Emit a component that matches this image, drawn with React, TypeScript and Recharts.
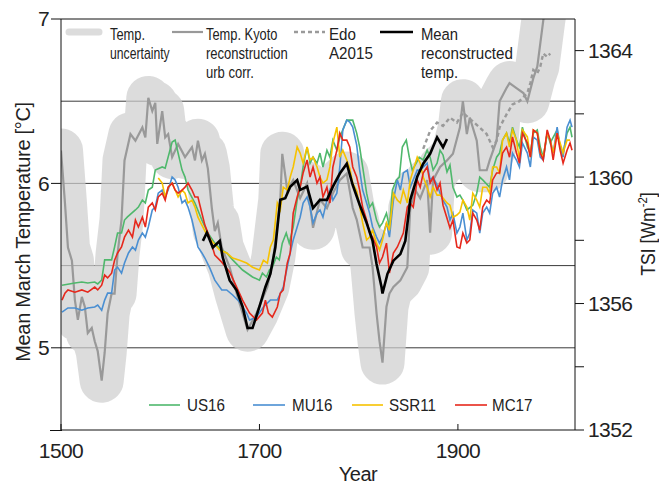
import React from 'react';
import { ComposedChart, Line, XAxis, YAxis, CartesianGrid, ReferenceLine } from 'recharts';

const FONT = '"Liberation Sans", Arial, sans-serif';

const yearTicks = [1500, 1700, 1900];
const tempTicks = [5, 6, 7];
const tempGrid = [5, 5.5, 6, 6.5];
const tsiTicks = [1352, 1354, 1356, 1358, 1360, 1362, 1364];

// Kyoto March temperature reconstruction (urban corrected), [year, °C];
// the uncertainty envelope is drawn around the same series
const kyoto: [number, number][] = [
  [1500, 6.2], [1504, 5.88], [1507, 5.61], [1511, 5.53], [1514, 5.29], [1517, 5.17], [1521, 5.31],
  [1524, 5.25], [1527, 5.09], [1531, 5.12], [1534, 5.04], [1537, 4.98], [1541, 4.8], [1544, 4.97],
  [1547, 5.21], [1551, 5.33], [1554, 5.33], [1557, 5.57], [1561, 5.78], [1564, 6.14], [1570, 6.3],
  [1575, 6.26], [1582, 6.34], [1585, 6.28], [1588, 6.52], [1592, 6.44], [1595, 6.49], [1597, 6.24],
  [1602, 6.44], [1605, 6.28], [1608, 6.3], [1612, 6.16], [1618, 6.24], [1625, 6.16], [1632, 6.22],
  [1635, 6.14], [1638, 6.26], [1642, 6.14], [1645, 6.18], [1648, 6.09], [1652, 5.85], [1655, 5.71],
  [1658, 5.76], [1662, 5.61], [1670, 5.49], [1677, 5.33], [1683, 5.21], [1688, 5.11], [1697, 5.21],
  [1708, 5.37], [1714, 5.55], [1721, 5.9], [1723, 6.18], [1728, 5.96], [1734, 6.02], [1741, 5.91],
  [1748, 6.0], [1754, 5.73], [1761, 5.9], [1768, 5.85], [1774, 5.94], [1781, 6.02], [1788, 6.06],
  [1794, 5.85], [1798, 5.78], [1804, 5.61], [1811, 5.61], [1814, 5.49], [1818, 5.21], [1821, 5.04],
  [1824, 4.91], [1828, 5.25], [1831, 5.33], [1835, 5.37], [1842, 5.41], [1849, 5.49], [1852, 5.85],
  [1857, 5.96], [1862, 5.91], [1869, 6.02], [1872, 5.7], [1875, 6.02], [1882, 6.1], [1889, 6.14],
  [1895, 6.18], [1902, 6.34], [1905, 6.5], [1909, 6.3], [1912, 6.4], [1915, 6.34], [1919, 6.26],
  [1922, 6.08], [1929, 6.08], [1932, 6.14], [1939, 6.26], [1942, 6.5], [1949, 6.58], [1952, 6.61],
  [1959, 6.58], [1966, 6.55], [1970, 6.5], [1973, 6.57], [1976, 6.64], [1980, 6.71], [1983, 6.85],
  [1986, 6.99], [1989, 7.11],
];

const edo: [number, number][] = [
  [1865, 6.21], [1872, 6.32], [1879, 6.37], [1885, 6.35], [1892, 6.4], [1899, 6.37], [1905, 6.43],
  [1922, 6.34], [1929, 6.3], [1935, 6.22], [1939, 6.26], [1942, 6.34], [1949, 6.42], [1955, 6.48],
  [1962, 6.5], [1970, 6.55], [1973, 6.61], [1976, 6.69], [1980, 6.67], [1983, 6.71], [1986, 6.79],
  [1990, 6.77], [1993, 6.79],
];

const meanTemp: [number, number][] = [
  [1643, 5.65], [1647, 5.7], [1653, 5.61], [1660, 5.65], [1663, 5.55], [1670, 5.41], [1677, 5.35],
  [1683, 5.25], [1688, 5.12], [1693, 5.12], [1700, 5.25], [1706, 5.37], [1711, 5.45], [1716, 5.61],
  [1721, 5.9], [1726, 5.91], [1731, 5.98], [1738, 6.02], [1741, 5.96], [1748, 5.98], [1754, 5.85],
  [1761, 5.9], [1768, 5.9], [1774, 5.98], [1781, 6.06], [1788, 6.12], [1794, 5.99], [1801, 5.87],
  [1808, 5.76], [1814, 5.65], [1818, 5.51], [1823, 5.37], [1824, 5.33], [1829, 5.45], [1835, 5.53],
  [1842, 5.57], [1847, 5.65], [1852, 5.9], [1859, 6.04], [1865, 6.12], [1872, 6.18], [1879, 6.28],
  [1885, 6.22], [1889, 6.27],
];

// TSI reconstructions, [year, W/m²]
const us16: [number, number][] = [
  [1501, 1356.58], [1514, 1356.65], [1521, 1356.68], [1527, 1356.65], [1534, 1356.68], [1537, 1356.62],
  [1541, 1356.74], [1544, 1357.38], [1551, 1357.38], [1554, 1357.79], [1557, 1358.23], [1561, 1358.23],
  [1564, 1358.64], [1567, 1358.74], [1575, 1358.96], [1578, 1359.05], [1582, 1359.27], [1585, 1359.18],
  [1588, 1359.59], [1592, 1359.68], [1595, 1360.22], [1602, 1360.32], [1605, 1360.28], [1612, 1361.11],
  [1615, 1361.17], [1618, 1360.76], [1622, 1360.22], [1625, 1360.0], [1628, 1359.59], [1635, 1359.18],
  [1642, 1358.64], [1648, 1358.23], [1655, 1357.91], [1662, 1357.69], [1667, 1357.6], [1673, 1357.38],
  [1683, 1357.06], [1693, 1356.84], [1700, 1356.74], [1703, 1356.96], [1707, 1356.84], [1710, 1357.06],
  [1713, 1357.15], [1717, 1357.47], [1720, 1357.38], [1723, 1357.91], [1727, 1358.23], [1730, 1357.91],
  [1734, 1358.42], [1738, 1359.27], [1741, 1359.68], [1744, 1360.32], [1748, 1360.95], [1751, 1360.44],
  [1754, 1360.63], [1758, 1360.44], [1761, 1360.76], [1764, 1360.32], [1768, 1360.85], [1771, 1360.63],
  [1774, 1361.17], [1778, 1360.85], [1781, 1361.26], [1788, 1361.8], [1794, 1361.8], [1798, 1361.39],
  [1801, 1360.95], [1804, 1360.32], [1808, 1359.49], [1811, 1359.05], [1814, 1359.18], [1818, 1358.64],
  [1821, 1358.42], [1824, 1358.55], [1828, 1358.86], [1831, 1358.42], [1834, 1359.59], [1838, 1359.91],
  [1841, 1360.0], [1844, 1360.95], [1848, 1361.17], [1851, 1360.63], [1854, 1360.22], [1858, 1360.44],
  [1861, 1360.63], [1865, 1360.54], [1869, 1360.85], [1872, 1360.63], [1875, 1360.22], [1879, 1360.44],
  [1882, 1360.85], [1885, 1360.7], [1889, 1360.16], [1892, 1360.38], [1895, 1359.68], [1899, 1359.37],
  [1902, 1359.43], [1905, 1359.27], [1909, 1358.96], [1915, 1359.11], [1919, 1359.49], [1922, 1360.0],
  [1925, 1359.91], [1932, 1359.68], [1935, 1360.22], [1939, 1360.63], [1942, 1360.76], [1945, 1361.17],
  [1949, 1361.39], [1952, 1361.08], [1955, 1361.58], [1959, 1361.17], [1962, 1360.95], [1965, 1361.58],
  [1970, 1360.95], [1973, 1360.76], [1976, 1361.39], [1980, 1361.49], [1983, 1360.95], [1986, 1360.63],
  [1990, 1361.39], [1993, 1361.08], [2000, 1361.49], [2003, 1360.95], [2006, 1360.76], [2010, 1361.39],
  [2013, 1361.58], [2015, 1361.26],
];

const mu16: [number, number][] = [
  [1501, 1355.73], [1507, 1355.86], [1514, 1355.86], [1521, 1355.79], [1527, 1355.86], [1534, 1355.89],
  [1537, 1355.95], [1541, 1355.79], [1544, 1356.11], [1547, 1356.33], [1551, 1356.33], [1554, 1357.06],
  [1557, 1357.15], [1561, 1356.96], [1564, 1357.28], [1568, 1357.6], [1572, 1357.79], [1575, 1357.69],
  [1578, 1358.01], [1582, 1358.23], [1585, 1358.1], [1588, 1358.42], [1592, 1358.96], [1595, 1359.05],
  [1598, 1359.49], [1602, 1359.59], [1605, 1359.37], [1608, 1359.59], [1612, 1360.0], [1615, 1359.91],
  [1618, 1359.68], [1622, 1359.18], [1625, 1359.27], [1628, 1359.05], [1632, 1358.64], [1635, 1358.23],
  [1638, 1357.79], [1642, 1357.6], [1645, 1357.44], [1650, 1357.12], [1655, 1356.74], [1662, 1356.43],
  [1667, 1356.43], [1673, 1356.27], [1680, 1356.05], [1687, 1355.7], [1690, 1355.48], [1697, 1355.57],
  [1704, 1355.89], [1711, 1356.11], [1718, 1356.11], [1724, 1356.52], [1728, 1357.15], [1731, 1357.6],
  [1734, 1358.01], [1738, 1358.42], [1741, 1358.73], [1744, 1359.18], [1748, 1359.37], [1751, 1359.05],
  [1754, 1358.55], [1758, 1358.86], [1761, 1358.96], [1764, 1358.73], [1768, 1359.27], [1771, 1359.59],
  [1774, 1359.27], [1778, 1359.49], [1781, 1360.32], [1784, 1361.49], [1788, 1361.8], [1791, 1361.74],
  [1794, 1361.58], [1798, 1361.01], [1801, 1360.22], [1804, 1359.59], [1808, 1359.18], [1811, 1358.86],
  [1814, 1358.42], [1818, 1358.1], [1821, 1357.91], [1824, 1358.1], [1828, 1358.55], [1831, 1358.1],
  [1835, 1359.27], [1839, 1359.91], [1842, 1359.59], [1845, 1360.13], [1849, 1360.22], [1852, 1359.68],
  [1855, 1359.91], [1859, 1360.22], [1862, 1360.22], [1869, 1360.44], [1872, 1359.91], [1875, 1360.0],
  [1879, 1359.75], [1882, 1359.49], [1885, 1359.27], [1889, 1359.05], [1892, 1358.64], [1895, 1358.86],
  [1899, 1358.23], [1902, 1358.42], [1905, 1358.86], [1909, 1358.01], [1912, 1358.23], [1915, 1358.96],
  [1919, 1358.86], [1922, 1358.23], [1925, 1358.86], [1929, 1359.05], [1932, 1358.86], [1935, 1359.49],
  [1939, 1359.68], [1942, 1359.37], [1945, 1359.91], [1949, 1360.32], [1952, 1359.91], [1955, 1360.76],
  [1959, 1360.54], [1962, 1360.32], [1965, 1361.08], [1970, 1360.76], [1973, 1360.32], [1976, 1361.27],
  [1980, 1361.17], [1983, 1360.63], [1986, 1360.54], [1990, 1361.39], [1993, 1361.17], [1996, 1360.76],
  [2000, 1361.58], [2003, 1360.95], [2006, 1360.63], [2010, 1361.58], [2013, 1361.8], [2015, 1361.58],
];

const ssr11: [number, number][] = [
  [1598, 1359.97], [1602, 1359.81], [1605, 1359.37], [1608, 1359.68], [1612, 1359.81], [1615, 1359.59],
  [1618, 1359.37], [1622, 1359.59], [1625, 1359.49], [1628, 1359.18], [1632, 1359.27], [1635, 1359.05],
  [1638, 1358.73], [1642, 1358.48], [1647, 1358.17], [1653, 1357.94], [1660, 1357.69], [1667, 1357.6],
  [1673, 1357.44], [1680, 1357.37], [1687, 1357.28], [1693, 1357.15], [1700, 1357.06], [1704, 1357.37],
  [1708, 1357.28], [1711, 1357.79], [1714, 1358.01], [1718, 1359.18], [1721, 1358.96], [1724, 1359.68],
  [1728, 1359.59], [1731, 1360.0], [1734, 1360.32], [1738, 1360.95], [1741, 1360.76], [1744, 1360.44],
  [1748, 1360.95], [1751, 1360.54], [1754, 1360.63], [1758, 1360.32], [1761, 1360.0], [1764, 1359.81],
  [1768, 1359.91], [1771, 1360.32], [1774, 1361.08], [1778, 1361.58], [1781, 1360.63], [1784, 1360.85],
  [1788, 1360.54], [1791, 1360.28], [1794, 1359.81], [1798, 1359.56], [1801, 1359.08], [1804, 1358.55],
  [1808, 1358.01], [1811, 1358.1], [1814, 1358.32], [1818, 1357.91], [1821, 1357.69], [1824, 1358.01],
  [1828, 1358.55], [1831, 1358.32], [1835, 1359.49], [1839, 1359.27], [1842, 1359.18], [1845, 1359.59],
  [1849, 1359.18], [1852, 1359.91], [1855, 1360.22], [1859, 1360.63], [1862, 1360.44], [1865, 1360.0],
  [1869, 1359.68], [1872, 1359.37], [1875, 1359.68], [1879, 1359.43], [1882, 1359.43], [1885, 1359.34],
  [1889, 1359.18], [1892, 1359.11], [1895, 1358.73], [1899, 1358.8], [1902, 1358.89], [1905, 1359.27],
  [1909, 1359.05], [1912, 1358.64], [1915, 1359.49], [1919, 1359.27], [1922, 1359.05], [1925, 1359.68],
  [1929, 1359.68], [1932, 1359.49], [1935, 1360.32], [1939, 1360.32], [1942, 1360.13], [1945, 1361.17],
  [1949, 1361.39], [1952, 1360.95], [1955, 1361.49], [1959, 1361.17], [1962, 1360.54], [1965, 1361.49],
  [1970, 1361.27], [1973, 1360.63], [1976, 1361.49], [1980, 1361.39], [1983, 1360.76], [1986, 1360.63],
  [1990, 1361.39], [1993, 1361.17], [1996, 1360.76], [2000, 1361.39], [2003, 1361.08], [2006, 1360.76],
  [2010, 1361.17], [2013, 1361.17],
];

const mc17: [number, number][] = [
  [1501, 1356.11], [1504, 1356.33], [1507, 1356.43], [1514, 1356.36], [1521, 1356.43], [1527, 1356.36],
  [1534, 1356.52], [1537, 1356.43], [1541, 1356.58], [1544, 1356.9], [1547, 1356.81], [1551, 1356.96],
  [1554, 1357.37], [1557, 1357.6], [1561, 1357.79], [1564, 1358.1], [1568, 1358.32], [1572, 1358.1],
  [1575, 1358.64], [1578, 1358.42], [1582, 1358.73], [1585, 1358.42], [1588, 1359.05], [1592, 1359.18],
  [1595, 1358.96], [1598, 1359.37], [1602, 1359.49], [1605, 1359.27], [1608, 1359.68], [1612, 1359.81],
  [1615, 1359.59], [1618, 1359.49], [1622, 1359.59], [1625, 1359.68], [1628, 1359.81], [1632, 1359.59],
  [1635, 1359.37], [1638, 1359.37], [1640, 1359.11], [1645, 1358.48], [1650, 1358.07], [1655, 1357.53],
  [1662, 1357.31], [1670, 1357.0], [1677, 1356.52], [1683, 1356.11], [1690, 1355.7], [1697, 1355.48],
  [1703, 1355.7], [1706, 1356.11], [1709, 1355.7], [1713, 1355.57], [1718, 1355.89], [1721, 1356.33],
  [1724, 1356.43], [1728, 1357.28], [1731, 1357.6], [1734, 1358.86], [1738, 1359.37], [1741, 1359.68],
  [1744, 1360.13], [1748, 1360.54], [1751, 1360.0], [1754, 1360.32], [1758, 1359.81], [1761, 1360.0],
  [1764, 1359.37], [1768, 1359.68], [1771, 1359.18], [1774, 1360.32], [1778, 1360.85], [1781, 1361.39],
  [1784, 1361.17], [1788, 1361.17], [1791, 1360.95], [1794, 1360.32], [1798, 1360.0], [1801, 1359.59],
  [1804, 1359.05], [1808, 1358.64], [1811, 1358.23], [1814, 1358.1], [1818, 1357.79], [1821, 1357.28],
  [1824, 1357.47], [1828, 1357.91], [1831, 1356.96], [1835, 1357.6], [1839, 1357.79], [1842, 1358.01],
  [1845, 1358.23], [1849, 1359.05], [1852, 1359.18], [1855, 1359.05], [1859, 1359.91], [1862, 1359.68],
  [1865, 1360.13], [1869, 1360.32], [1872, 1359.81], [1875, 1360.0], [1879, 1359.59], [1882, 1359.81],
  [1885, 1359.11], [1889, 1358.7], [1892, 1358.39], [1895, 1358.64], [1899, 1357.79], [1902, 1357.75],
  [1905, 1358.23], [1909, 1357.91], [1912, 1358.01], [1915, 1358.86], [1919, 1358.64], [1922, 1358.32],
  [1925, 1359.05], [1929, 1359.27], [1932, 1359.18], [1935, 1359.91], [1939, 1360.13], [1942, 1360.13],
  [1945, 1360.76], [1949, 1360.95], [1952, 1360.63], [1955, 1361.27], [1959, 1360.76], [1962, 1360.44],
  [1965, 1361.39], [1970, 1361.08], [1973, 1360.63], [1976, 1361.49], [1980, 1361.39], [1983, 1360.76],
  [1986, 1360.54], [1990, 1361.49], [1993, 1361.17], [1996, 1360.54], [2000, 1361.39], [2003, 1360.85],
  [2006, 1360.44], [2010, 1360.85], [2013, 1361.08], [2015, 1360.85],
];

const pts = (a: [number, number][]) => a.map(([year, v]) => ({ year, v }));

const INK = '#222';
const tickStyle = { fontSize: 21, fill: INK, fontFamily: FONT, letterSpacing: -0.6 };

const YearTick = (props: any) => {
  const { x, y, payload } = props;
  return (
    <g>
      <line x1={x} x2={x} y1={y} y2={y - 6} stroke="#111" strokeWidth={1} />
      <text x={x} y={y + 28} textAnchor="middle" {...tickStyle}>{payload.value}</text>
    </g>
  );
};

// condensed legend text, as in the original figure
const Txt = ({ x, y, sx, children }: { x: number; y: number; sx: number; children: React.ReactNode }) => (
  <text transform={`translate(${x},${y}) scale(${sx},1)`} fontSize={16.5} fill={INK} fontFamily={FONT}>
    {children}
  </text>
);

const GREEN = '#4fb86c';
const BLUE = '#4a8fd2';
const YELLOW = '#f6c200';
const RED = '#e6281c';

export default function App() {
  return (
    <div style={{ position: 'absolute', left: 0, top: 0, width: 659, height: 485, background: '#fff' }}>
      <ComposedChart width={659} height={485} margin={{ top: 19, right: 0, bottom: 0, left: 0 }}>
        <CartesianGrid yAxisId="t" horizontalValues={tempGrid} vertical={false} stroke="#3a3a3a" strokeWidth={1} />
        <XAxis
          dataKey="year"
          type="number"
          domain={[1500, 2018]}
          ticks={yearTicks}
          allowDataOverflow
          height={55}
          tickSize={0}
          tickMargin={0}
          tickLine={false}
          tick={<YearTick />}
          stroke="#111"
        />
        <YAxis
          yAxisId="t"
          type="number"
          domain={[4.5, 7]}
          ticks={tempTicks}
          allowDataOverflow
          width={61}
          tickSize={10}
          tickMargin={2}
          tick={tickStyle}
          stroke="#111"
        />
        <YAxis
          yAxisId="tsi"
          orientation="right"
          type="number"
          domain={[1352, 1365]}
          ticks={tsiTicks}
          allowDataOverflow
          width={84}
          tickSize={9}
          tickMargin={4}
          tick={tickStyle}
          tickFormatter={(v: number) => (v % 4 === 0 ? String(v) : '')}
          stroke="#111"
        />
        <Line yAxisId="t" data={pts(kyoto)} dataKey="v" type="linear" stroke="#cfcfcf" strokeOpacity={0.72}
          strokeWidth={44} strokeLinecap="round" strokeLinejoin="round" dot={false} isAnimationActive={false} />
        <Line yAxisId="t" data={pts(kyoto)} dataKey="v" type="linear" stroke="#999" strokeWidth={2.2}
          dot={false} isAnimationActive={false} />
        <Line yAxisId="t" data={pts(edo)} dataKey="v" type="linear" stroke="#9a9a9a" strokeWidth={2.4}
          strokeDasharray="4 3" dot={false} isAnimationActive={false} />
        <Line yAxisId="tsi" data={pts(us16)} dataKey="v" type="linear" stroke={GREEN} strokeWidth={1.6}
          dot={false} isAnimationActive={false} />
        <Line yAxisId="tsi" data={pts(mu16)} dataKey="v" type="linear" stroke={BLUE} strokeWidth={1.6}
          dot={false} isAnimationActive={false} />
        <Line yAxisId="tsi" data={pts(ssr11)} dataKey="v" type="linear" stroke={YELLOW} strokeWidth={1.6}
          dot={false} isAnimationActive={false} />
        <Line yAxisId="tsi" data={pts(mc17)} dataKey="v" type="linear" stroke={RED} strokeWidth={1.6}
          dot={false} isAnimationActive={false} />
        <Line yAxisId="t" data={pts(meanTemp)} dataKey="v" type="linear" stroke="#000" strokeWidth={2.6}
          dot={false} isAnimationActive={false} />
        <ReferenceLine yAxisId="t" y={7} stroke="#111" strokeWidth={1} />
      </ComposedChart>

      <svg width={659} height={485} style={{ position: 'absolute', left: 0, top: 0, pointerEvents: 'none' }}>
        <line x1={50} x2={62} y1={430.5} y2={430.5} stroke="#111" />

        <line x1={69} x2={99} y1={32} y2={32} stroke="#dcdcdc" strokeWidth={7} strokeLinecap="round" />
        <Txt x={110} y={40} sx={0.78}>Temp.</Txt>
        <Txt x={110} y={59} sx={0.74}>uncertainty</Txt>

        <line x1={172} x2={203} y1={32} y2={32} stroke="#999" strokeWidth={2.2} />
        <Txt x={206} y={40} sx={0.78}>Temp. Kyoto</Txt>
        <Txt x={206} y={59} sx={0.79}>reconstruction</Txt>
        <Txt x={206} y={78} sx={0.79}>urb corr.</Txt>

        <line x1={294} x2={325} y1={32} y2={32} stroke="#9a9a9a" strokeWidth={2.4} strokeDasharray="4 3" />
        <Txt x={329} y={40} sx={0.92}>Edo</Txt>
        <Txt x={329} y={59} sx={0.92}>A2015</Txt>

        <line x1={380} x2={413} y1={32} y2={32} stroke="#000" strokeWidth={2.6} />
        <Txt x={421} y={40} sx={0.9}>Mean</Txt>
        <Txt x={421} y={59} sx={0.92}>reconstructed</Txt>
        <Txt x={421} y={78} sx={0.9}>temp.</Txt>

        <line x1={149} x2={180} y1={405} y2={405} stroke={GREEN} strokeWidth={1.6} />
        <Txt x={187} y={411} sx={0.92}>US16</Txt>
        <line x1={253} x2={285} y1={405} y2={405} stroke={BLUE} strokeWidth={1.6} />
        <Txt x={292} y={411} sx={0.92}>MU16</Txt>
        <line x1={352} x2={383} y1={405} y2={405} stroke={YELLOW} strokeWidth={1.6} />
        <Txt x={389} y={411} sx={0.92}>SSR11</Txt>
        <line x1={455} x2={487} y1={405} y2={405} stroke={RED} strokeWidth={1.6} />
        <Txt x={492} y={411} sx={0.92}>MC17</Txt>

        <text x={358} y={481} textAnchor="middle" fontSize={20} fill={INK} fontFamily={FONT} letterSpacing={-0.5}>Year</text>
        <text transform="translate(30,232) rotate(-90)" textAnchor="middle" fontSize={20} fill={INK} fontFamily={FONT} letterSpacing={-0.3}>
          Mean March Temperature [°C]
        </text>
        <text transform="translate(655,234) rotate(-90) scale(0.88,1)" textAnchor="middle" fontSize={20} fill={INK} fontFamily={FONT}>
          TSI [Wm<tspan fontSize={13} dy={-8}>-2</tspan><tspan dy={8}>]</tspan>
        </text>
      </svg>
    </div>
  );
}
